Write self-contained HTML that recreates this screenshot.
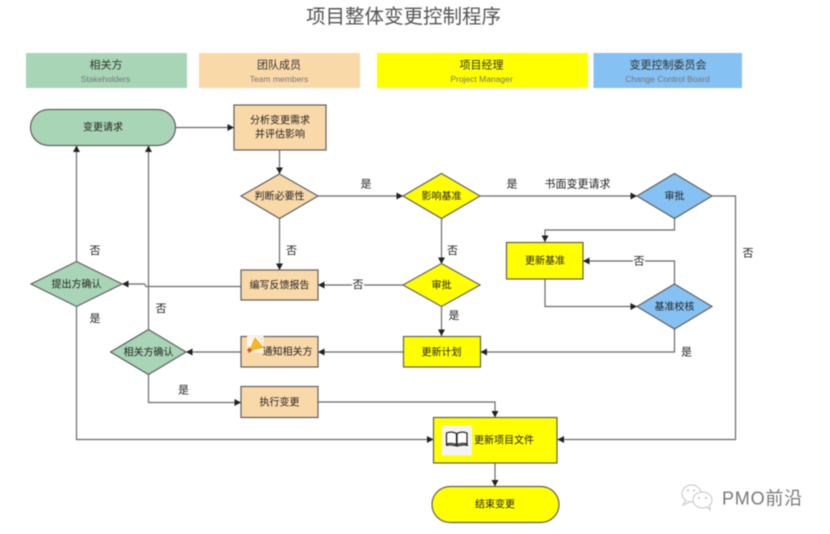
<!DOCTYPE html>
<html lang="zh">
<head>
<meta charset="utf-8">
<title>项目整体变更控制程序</title>
<style>
html,body{margin:0;padding:0;background:#fff;width:830px;height:534px;overflow:hidden}
svg{display:block;filter:blur(.4px)}
text{font-family:"Liberation Sans","Noto Sans CJK SC",sans-serif;text-anchor:middle;dominant-baseline:central}
.n{font-size:10px;fill:#222}
.l{font-size:11px;fill:#222}
.h{font-size:11px;fill:#333}
.s{font-size:8.500px;fill:#777}
.e{fill:none;stroke:#6a6a6a;stroke-width:1.200}
.b{stroke:#5f5f5f;stroke-width:1.200}
.g{fill:#a8d5b5}.o{fill:#fad9a9}.y{fill:#ffff00}.u{fill:#85c1f2}
.a{fill:#222}
</style>
</head>
<body>
<svg width="830" height="534" viewBox="0 0 830 534" xmlns="http://www.w3.org/2000/svg">
<rect width="830" height="534" fill="#fff"/>
<text x="403.500" y="17" style="font-size:19.500px;fill:#555">项目整体变更控制程序</text>

<rect class="g" x="26" y="53" width="161" height="35"/>
<rect class="o" x="199" y="53" width="161" height="35"/>
<rect class="y" x="377" y="53" width="211" height="35"/>
<rect class="u" x="593.500" y="53" width="148.500" height="35"/>
<text class="h" x="106" y="65.500">相关方</text><text class="s" x="105.500" y="79">Stakeholders</text>
<text class="h" x="279" y="65.500">团队成员</text><text class="s" x="279" y="79">Team members</text>
<text class="h" x="481.500" y="65.500">项目经理</text><text class="s" x="481.500" y="79">Project Manager</text>
<text class="h" x="668" y="65.500">变更控制委员会</text><text class="s" x="667.500" y="79">Change Control Board</text>

<!-- connectors -->
<path class="e" d="M175.500 127.500H234"/>
<path class="e" d="M279.500 150V174"/>
<path class="e" d="M318 196H403"/>
<path class="e" d="M279.500 219V270"/>
<path class="e" d="M480 196H637"/>
<path class="e" d="M441.500 219V264"/>
<path class="e" d="M441.500 307V336"/>
<path class="e" d="M403 285H318"/>
<path class="e" d="M241 286.500H146L144.500 284H122"/>
<path class="e" d="M76.500 261V145.500"/>
<path class="e" d="M148.500 329V145.500"/>
<path class="e" d="M403.500 352H318"/>
<path class="e" d="M241 352H186"/>
<path class="e" d="M148.500 375V402.500H241"/>
<path class="e" d="M318 402H495V417.500"/>
<path class="e" d="M76.500 307V439.500H433.500"/>
<path class="e" d="M674.500 219V230H545V242"/>
<path class="e" d="M545 279V306.500H637"/>
<path class="e" d="M674.500 284V261H583"/>
<path class="e" d="M674.500 329V352H480.500"/>
<path class="e" d="M712 196H735.500V439.500H557.500"/>
<path class="e" d="M495 463.500V486.500"/>

<!-- arrowheads -->
<g class="a">
<path d="M234 127.500l-6.500-3.500v7z"/>
<path d="M279.500 174l-3.500-6.500h7z"/>
<path d="M403 196l-6.500-3.500v7z"/>
<path d="M279.500 270l-3.500-6.500h7z"/>
<path d="M637 196l-6.500-3.500v7z"/>
<path d="M441.500 264l-3.500-6.500h7z"/>
<path d="M441.500 336l-3.500-6.500h7z"/>
<path d="M318 285l6.500-3.500v7z"/>
<path d="M122 284l6.500-3.500v7z"/>
<path d="M76.500 145.500l-3.500 6.500h7z"/>
<path d="M148.500 145.500l-3.500 6.500h7z"/>
<path d="M318 352l6.500-3.500v7z"/>
<path d="M186 352l6.500-3.500v7z"/>
<path d="M241 402.500l-6.500-3.500v7z"/>
<path d="M495 417.500l-3.500-6.500h7z"/>
<path d="M433.500 439.500l-6.500-3.500v7z"/>
<path d="M545 242l-3.500-6.500h7z"/>
<path d="M637 306.500l-6.500-3.500v7z"/>
<path d="M583 261l6.500-3.500v7z"/>
<path d="M480.500 352l6.500-3.500v7z"/>
<path d="M557.500 439.500l6.500-3.500v7z"/>
<path d="M495 486.500l-3.500-6.500h7z"/>
</g>

<!-- nodes -->
<rect class="g b" x="30.500" y="109.500" width="145" height="36" rx="18"/>
<rect class="o b" x="234" y="105" width="92" height="45"/>
<polygon class="o b" points="279.500,174 318,196 279.500,218.500 241,196"/>
<polygon class="y b" points="441.500,173.500 480,196 441.500,218.500 403,196"/>
<polygon class="u b" points="674.500,173.500 712,196 674.500,218.500 637,196"/>
<rect class="y b" x="506.500" y="242.500" width="76.500" height="36.500"/>
<polygon class="y b" points="441.500,263.500 480,285 441.500,306.500 403,285"/>
<polygon class="u b" points="674.500,284 712,306.500 674.500,329 637,306.500"/>
<rect class="o b" x="241" y="270" width="77" height="30"/>
<polygon class="g b" points="76.500,261.500 122,284 76.500,306.500 31,284"/>
<rect class="o b" x="241" y="336.500" width="77" height="30.500"/>
<rect class="y b" x="403.500" y="336.500" width="77" height="30.500"/>
<polygon class="g b" points="148.500,329.500 186,352 148.500,374.500 110.500,352"/>
<rect class="o b" x="241" y="386.500" width="77" height="31"/>
<rect class="y b" x="433.500" y="417.500" width="123.500" height="45.500"/>
<rect class="y b" x="432" y="486.500" width="127" height="36" rx="18"/>

<!-- node text -->
<text class="n" x="103" y="128">变更请求</text>
<text class="n" x="280" y="121">分析变更需求</text>
<text class="n" x="280" y="135">并评估影响</text>
<text class="n" x="279.500" y="197">判断必要性</text>
<text class="n" x="441.500" y="197">影响基准</text>
<text class="n" x="674.500" y="197">审批</text>
<text class="n" x="545" y="261.500">更新基准</text>
<text class="n" x="441.500" y="286">审批</text>
<text class="n" x="674.500" y="307.500">基准校核</text>
<text class="n" x="279.500" y="286">编写反馈报告</text>
<text class="n" x="76.500" y="285">提出方确认</text>
<text class="n" x="148.500" y="353">相关方确认</text>
<text class="n" x="287.500" y="352.500">通知相关方</text>
<text class="n" x="441.500" y="353">更新计划</text>
<text class="n" x="279.500" y="403">执行变更</text>
<text class="n" x="504" y="441">更新项目文件</text>
<text class="n" x="495" y="505">结束变更</text>

<!-- connector labels -->
<text class="l" x="366" y="184.500">是</text>
<text class="l" x="512" y="184.500">是</text>
<text class="l" x="577.500" y="184.500">书面变更请求</text>
<text class="l" x="95" y="251">否</text>
<text class="l" x="291.500" y="251">否</text>
<text class="l" x="452.500" y="251">否</text>
<text class="l" x="748" y="253.500">否</text>
<rect x="633" y="255" width="12" height="12" fill="#fff"/>
<text class="l" x="639" y="261.500">否</text>
<rect x="352" y="279" width="12" height="12" fill="#fff"/>
<text class="l" x="358" y="285">否</text>
<text class="l" x="161" y="309">否</text>
<text class="l" x="95" y="319">是</text>
<text class="l" x="454" y="316">是</text>
<text class="l" x="686.500" y="352.500">是</text>
<text class="l" x="183.500" y="390.500">是</text>

<!-- megaphone icon -->
<rect x="247" y="336" width="16.500" height="16.500" fill="#fdf6e8"/>
<path d="M258 338l1.500-1M260 340l2-1.500M261 343l2-.5" stroke="#b9dcb8" stroke-width=".8" fill="none"/>
<polygon points="255,338 263,347.500 250,350.500" fill="#fbb81f" stroke="#e89a10" stroke-width=".7"/>
<polygon points="249.500,347 252,351 249,353 247,350" fill="#e8501f"/>

<!-- book icon -->
<rect x="442" y="425.500" width="30" height="30" fill="#f4f4f4"/>
<path d="M446.500 433c3-1.200 7-1.200 10 .5v11c-3-1.400-7-1.400-10-.5z" fill="#fff" stroke="#1a1a1a" stroke-width="1.200"/>
<path d="M467 433c-3-1.200-7-1.200-10 .5v11c3-1.400 7-1.400 10-.5z" fill="#fff" stroke="#1a1a1a" stroke-width="1.200"/>
<path d="M446 445.500c3-.8 8-.8 11 .6 3-1.400 8-1.400 11-.6" fill="none" stroke="#1a1a1a" stroke-width="1.200"/>

<!-- watermark -->
<g fill="#fff" stroke="#c4c4c4" stroke-width="1">
<ellipse cx="691.500" cy="493.500" rx="9.500" ry="8.500"/>
<path d="M686 500l-3 5 6-2.500"/>
<ellipse cx="702.500" cy="500" rx="9.500" ry="8"/>
<path d="M707 506.500l3 3.500-.3-5"/>
</g>
<g fill="#aaa">
<circle cx="688" cy="490.500" r=".9"/><circle cx="694" cy="490.500" r=".9"/>
<circle cx="699" cy="498" r=".9"/><circle cx="706" cy="498" r=".9"/>
</g>
<text x="762.500" y="498.500" style="font-size:18px;fill:#777;letter-spacing:.8px">PMO前沿</text>
</svg>
</body>
</html>
